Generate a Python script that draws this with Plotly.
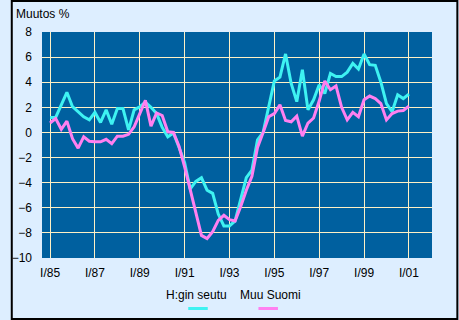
import plotly.graph_objects as go

# Quarterly data 1985Q1 .. 2001Q1
years = list(range(1985, 2002))
quarters = [(y, q) for y in years for q in range(1, 5)][:65]
xq = [y + (q - 1) / 4 for (y, q) in quarters]

hgin = [
    1.2, 1.2, 2.2, 3.2,
    2.05, 1.65, 1.25, 1.0,
    1.6, 0.8, 1.8, 0.65,
    1.9, 1.9, 0.2, 1.8,
    2.05, 2.4, 2.0, 1.5,
    0.4, -0.35, -0.05, -1.2,
    -2.4, -4.5, -3.9, -3.6,
    -4.6, -4.85, -6.5, -7.45,
    -7.45, -7.05, -5.4, -3.6,
    -3.0, -0.6, 0.0, 2.1,
    4.1, 4.4, 6.25, 3.9,
    2.45, 5.0, 1.8, 2.6,
    3.8, 3.1, 4.7, 4.45,
    4.45, 4.8, 5.5, 5.05,
    6.25, 5.4, 5.35, 4.0,
    2.3, 1.65, 3.0, 2.7,
    3.05,
]
muu = [
    0.75, 1.1, 0.25, 0.9,
    -0.5, -1.25, -0.35, -0.7,
    -0.75, -0.75, -0.55, -0.9,
    -0.3, -0.3, -0.15, 0.45,
    1.5, 2.55, 0.5, 1.55,
    1.35, 0.05, 0.0, -1.1,
    -2.75, -4.6, -6.4, -8.2,
    -8.45, -7.9, -7.0, -6.6,
    -6.95, -7.05, -5.9, -4.6,
    -3.5, -1.2, 0.0, 1.25,
    1.5, 2.2, 0.95, 0.85,
    1.3, -0.3, 0.75, 1.15,
    2.5, 4.1, 3.4, 3.7,
    2.0, 1.0, 1.6, 1.25,
    2.6, 2.9, 2.7, 2.3,
    1.0, 1.5, 1.7, 1.75,
    2.1,
]

tick_years = [1985, 1987, 1989, 1991, 1993, 1995, 1997, 1999, 2001]
tick_labels = ["I/85", "I/87", "I/89", "I/91", "I/93", "I/95", "I/97", "I/99", "I/01"]
y_ticks = [-10, -8, -6, -4, -2, 0, 2, 4, 6, 8]

series_names = ["H:gin seutu", "Muu Suomi"]
series_colors = ["#3ef2f2", "#ff80f0"]

W, H = 459, 320
L, R, T, B = 32, 27, 32, 62
PW, PH = W - L - R, H - T - B

def px(xp):
    return (xp - L) / PW

def py(yp):
    return (H - B - yp) / PH

fig = go.Figure()
for name, vals, col in zip(series_names, [hgin, muu], series_colors):
    fig.add_trace(go.Scatter(x=xq, y=vals, mode="lines", name=name,
                             line=dict(color=col, width=3), showlegend=False))

font = dict(family="Liberation Sans, Arial, sans-serif", size=12, color="#000000")
grid = "#fff0c4"

fig.update_layout(
    width=W, height=H,
    margin=dict(l=L, r=R, t=T, b=B),
    paper_bgcolor="#ddeeff",
    plot_bgcolor="#00609f",
    font=font,
    xaxis=dict(range=[1984.64, 2002.03], tickvals=tick_years, ticktext=tick_labels,
               showgrid=True, gridcolor=grid, gridwidth=1, zeroline=False,
               showline=False, ticks="", ticklabelstandoff=6, fixedrange=True),
    yaxis=dict(range=[-10, 8], tickvals=y_ticks, showgrid=True, gridcolor=grid,
               gridwidth=1, zeroline=False, showline=False, ticks="",
               ticklabelstandoff=9, fixedrange=True),
)

ann = [
    dict(text="Muutos %", x=px(3), y=py(14), xanchor="left", yanchor="middle"),
    dict(text=series_names[0], x=px(190), y=py(295), xanchor="center", yanchor="middle"),
    dict(text=series_names[1], x=px(266), y=py(295), xanchor="center", yanchor="middle"),
]
for a in ann:
    fig.add_annotation(xref="paper", yref="paper", showarrow=False, font=font, **a)

shapes = [
    dict(type="line", x0=px(182), x1=px(202), y0=py(308.5), y1=py(308.5),
         line=dict(color=series_colors[0], width=3)),
    dict(type="line", x0=px(254), x1=px(274), y0=py(308.5), y1=py(308.5),
         line=dict(color=series_colors[1], width=3)),
    dict(type="rect", x0=px(1), x1=px(W - 1), y0=py(H - 1), y1=py(1),
         line=dict(color="#000000", width=2)),
]
for s in shapes:
    fig.add_shape(xref="paper", yref="paper", layer="above", **s)

fig.write_html("out.html", config={"displayModeBar": False},
               post_script="document.body.style.margin='0';document.body.style.overflow='hidden';")
